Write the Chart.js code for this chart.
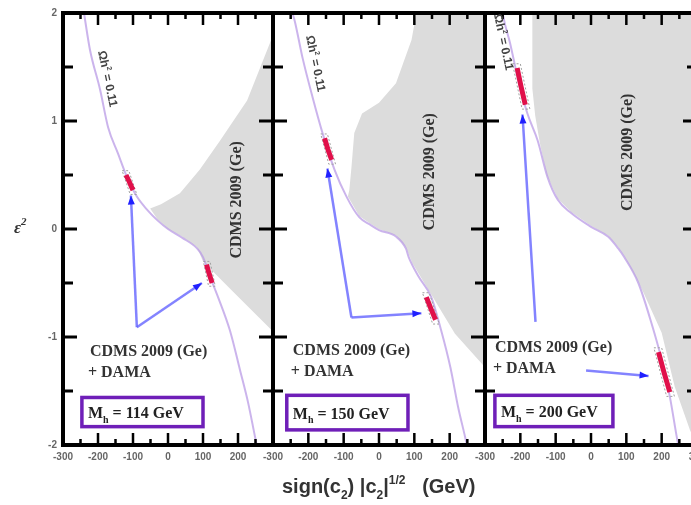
<!DOCTYPE html>
<html>
<head>
<meta charset="utf-8">
<script src="https://cdn.jsdelivr.net/npm/chart.js"></script>
<style>
html, body { margin: 0; padding: 0; background: #fff; overflow: hidden; }
#wrap { position: relative; width: 691px; height: 505px; overflow: hidden; }
#wrap canvas { position: absolute; left: 0; top: 0; }
</style>
</head>
<body>
<div id="wrap">
  <canvas id="p1" width="700" height="505"></canvas>
  <canvas id="p2" width="700" height="505"></canvas>
  <canvas id="p3" width="700" height="505"></canvas>
</div>
<script>
// ===== DATI =====
const xTickValues = [-300, -200, -100, 0, 100, 200, 300];
const yTickValues = [-2, -1, 0, 1, 2];
const higgsMasses = ['114', '150', '200'];

// curva della densita' relic (viola)
const relicX114 = [-240, -223, -194, -171, -143, -117, -89, -60, -30, 0, 40, 83, 100, 120, 143, 177, 206, 229, 249, 260];
const relicY114 = [2.0, 1.66, 1.29, 0.94, 0.70, 0.48, 0.30, 0.18, 0.08, 0.0, -0.08, -0.18, -0.26, -0.44, -0.63, -0.94, -1.31, -1.61, -1.93, -2.1];
const relicX150 = [-245, -238, -216, -188, -160, -126, -92, -56, -25, 0, 48, 76, 84, 112, 148, 176, 202, 224, 244, 252];
const relicY150 = [2.0, 1.92, 1.58, 1.22, 0.89, 0.55, 0.30, 0.11, 0.04, -0.01, -0.07, -0.18, -0.26, -0.44, -0.63, -0.94, -1.28, -1.65, -1.93, -2.05];
const relicX200 = [-252, -249, -229, -206, -180, -151, -123, -94, -57, 0, 48, 77, 94, 134, 171, 200, 223, 243, 250];
const relicY200 = [2.05, 1.98, 1.72, 1.38, 1.07, 0.82, 0.48, 0.27, 0.15, 0.02, -0.07, -0.18, -0.26, -0.5, -0.87, -1.21, -1.55, -1.93, -2.05];

// regione esclusa CDMS 2009 (grigia)
const cdmsX114 = [300, 291, 226, 149, 91, 34, -20, -51, -30, 0, 40, 83, 100, 186, 300];
const cdmsY114 = [1.80, 1.72, 1.19, 0.82, 0.55, 0.33, 0.23, 0.19, 0.09, 0.0, -0.07, -0.17, -0.30, -0.58, -0.95];
const cdmsX150 = [106, 92, 48, 0, -48, -70, -78, -84, -88, -56, -25, 0, 48, 76, 95, 215, 300, 300];
const cdmsY150 = [2.0, 1.75, 1.35, 1.17, 1.07, 0.89, 0.57, 0.36, 0.30, 0.12, 0.05, 0.0, -0.06, -0.17, -0.32, -0.97, -1.28, 2.0];
const cdmsX200 = [-166, -166, -158, -145, -125, -94, -57, 0, 48, 77, 94, 134, 150, 200, 237, 280, 300, 300];
const cdmsY200 = [2.0, 1.3, 1.05, 0.8, 0.5, 0.28, 0.16, 0.03, -0.06, -0.17, -0.25, -0.49, -0.6, -0.96, -1.46, -1.86, -2.0, 2.0];

// segmenti DAMA + CDMS (rossi)
const damaUpX114 = [-120, -111, -100];
const damaUpY114 = [0.50, 0.44, 0.36];
const damaLoX114 = [110, 118, 126];
const damaLoY114 = [-0.33, -0.42, -0.50];
const damaUpX150 = [-154, -145, -134];
const damaUpY150 = [0.84, 0.74, 0.64];
const damaLoX150 = [134, 146, 160];
const damaLoY150 = [-0.63, -0.73, -0.84];
const damaUpX200 = [-209, -198, -186];
const damaUpY200 = [1.49, 1.32, 1.15];
const damaLoX200 = [191, 206, 223];
const damaLoY200 = [-1.14, -1.32, -1.51];

// contorni tratteggiati
const boxUpX114 = [-131, -112, -89, -108, -131];
const boxUpY114 = [0.54, 0.54, 0.32, 0.32, 0.54];
const boxLoX114 = [101, 120, 135, 116, 101];
const boxLoY114 = [-0.30, -0.30, -0.53, -0.53, -0.30];
const boxUpX150 = [-165, -146, -123, -142, -165];
const boxUpY150 = [0.88, 0.88, 0.60, 0.60, 0.88];
const boxLoX150 = [123, 142, 171, 152, 123];
const boxLoY150 = [-0.59, -0.59, -0.88, -0.88, -0.59];
const boxUpX200 = [-222, -200, -173, -195, -222];
const boxUpY200 = [1.53, 1.53, 1.11, 1.11, 1.53];
const boxLoX200 = [178, 200, 236, 214, 178];
const boxLoY200 = [-1.10, -1.10, -1.55, -1.55, -1.10];

// frecce blu
const arrowAX114 = [-89, -106];
const arrowAY114 = [-0.91, 0.31];
const arrowBX114 = [-89, 97];
const arrowBY114 = [-0.91, -0.50];
const arrowAX150 = [-78, -146];
const arrowAY150 = [-0.82, 0.56];
const arrowBX150 = [-78, 120];
const arrowBY150 = [-0.82, -0.78];
const arrowAX200 = [-157, -194];
const arrowAY200 = [-0.86, 1.06];
const arrowBX200 = [-14, 163];
const arrowBY200 = [-1.31, -1.36];

const toPts = (xs, ys) => xs.map((x, i) => ({ x: x, y: ys[i] }));

// ===== PANNELLI =====
const panels = [
    {
        id: 'p1', left: 63, right: 273,
        relic: [relicX114, relicY114], cdms: [cdmsX114, cdmsY114],
        dama: [[damaUpX114, damaUpY114], [damaLoX114, damaLoY114]],
        boxes: [[boxUpX114, boxUpY114], [boxLoX114, boxLoY114]],
        arrows: [[arrowAX114, arrowAY114], [arrowBX114, arrowBY114]],
        curveLabel: { x: -171, y: 1.38 }, cdmsLabel: { x: 194, y: 0.27 },
        combo: { x: -223, y: -1.12 }, massBox: { x0: -246, x1: 100, y0: -1.56, y1: -1.83 }
    },
    {
        id: 'p2', left: 273, right: 485,
        relic: [relicX150, relicY150], cdms: [cdmsX150, cdmsY150],
        dama: [[damaUpX150, damaUpY150], [damaLoX150, damaLoY150]],
        boxes: [[boxUpX150, boxUpY150], [boxLoX150, boxLoY150]],
        arrows: [[arrowAX150, arrowAY150], [arrowBX150, arrowBY150]],
        curveLabel: { x: -178, y: 1.52 }, cdmsLabel: { x: 142, y: 0.53 },
        combo: { x: -244, y: -1.11 }, massBox: { x0: -261, x1: 82, y0: -1.54, y1: -1.86 }
    },
    {
        id: 'p3', left: 485, right: 697,
        relic: [relicX200, relicY200], cdms: [cdmsX200, cdmsY200],
        dama: [[damaUpX200, damaUpY200], [damaLoX200, damaLoY200]],
        boxes: [[boxUpX200, boxUpY200], [boxLoX200, boxLoY200]],
        arrows: [[arrowAX200, arrowAY200], [arrowBX200, arrowBY200]],
        curveLabel: { x: -246, y: 1.72 }, cdmsLabel: { x: 102, y: 0.71 },
        combo: { x: -272, y: -1.08 }, massBox: { x0: -272, x1: 62, y0: -1.54, y1: -1.83 }
    }
];

// testo con pedici / apici
function drawRich(ctx, parts, x, y, size, family, weight) {
    let cx = x;
    parts.forEach(p => {
        const s = p.sub || p.sup ? Math.round(size * 0.62) : size;
        ctx.font = `${weight} ${s}px ${family}`;
        const dy = p.sub ? size * 0.3 : (p.sup ? -size * 0.45 : 0);
        ctx.fillText(p.t, cx, y + dy);
        cx += ctx.measureText(p.t).width;
    });
}

// cornice e tacche verso l'interno
const framePlugin = {
    id: 'frame',
    afterDatasetsDraw(chart) {
        const { ctx, chartArea: a, scales: { x, y } } = chart;
        ctx.save();
        ctx.fillStyle = '#000';
        for (let v = -250; v <= 250; v += 50) {
            const px = x.getPixelForValue(v);
            const len = v % 100 === 0 ? 12 : 6;
            ctx.fillRect(px - 1.25, a.top, 2.5, len);
            ctx.fillRect(px - 1.25, a.bottom - len, 2.5, len);
        }
        for (let v = -1.5; v <= 1.5; v += 0.5) {
            const py = y.getPixelForValue(v);
            const len = Number.isInteger(v) ? 14 : 10;
            ctx.fillRect(a.left, py - 1.5, len, 3);
            ctx.fillRect(a.right - len, py - 1.5, len, 3);
        }
        ctx.strokeStyle = '#000';
        ctx.lineWidth = 4;
        ctx.strokeRect(a.left, a.top, a.right - a.left, a.bottom - a.top);
        ctx.restore();
    }
};

// punte delle frecce
const arrowPlugin = {
    id: 'arrows',
    afterDatasetsDraw(chart) {
        const ctx = chart.ctx;
        chart.data.datasets.forEach((ds, i) => {
            if (!ds.arrow) return;
            const pts = chart.getDatasetMeta(i).data;
            const p1 = pts[pts.length - 2], p2 = pts[pts.length - 1];
            const ang = Math.atan2(p2.y - p1.y, p2.x - p1.x);
            ctx.save();
            ctx.translate(p2.x, p2.y);
            ctx.rotate(ang);
            ctx.fillStyle = '#2020ff';
            ctx.beginPath();
            ctx.moveTo(0, 0);
            ctx.lineTo(-9, -3.5);
            ctx.lineTo(-9, 3.5);
            ctx.closePath();
            ctx.fill();
            ctx.restore();
        });
    }
};

// etichette di testo
const labelPlugin = {
    id: 'labels',
    afterDraw(chart) {
        const cfg = chart.options.plugins.labels;
        const { ctx, scales: { x, y } } = chart;
        ctx.save();
        ctx.fillStyle = '#333';
        ctx.textBaseline = 'alphabetic';

        // etichetta lungo la curva
        ctx.save();
        ctx.translate(x.getPixelForValue(cfg.curveLabel.x), y.getPixelForValue(cfg.curveLabel.y));
        ctx.rotate(78 * Math.PI / 180);
        ctx.fillStyle = '#444';
        ctx.textAlign = 'left';
        drawRich(ctx, [{ t: '\u03A9h' }, { t: '2', sup: true }, { t: ' = 0.11' }], -30, 4, 12, 'Liberation Sans', 'bold');
        ctx.restore();

        // CDMS verticale
        ctx.save();
        ctx.translate(x.getPixelForValue(cfg.cdmsLabel.x), y.getPixelForValue(cfg.cdmsLabel.y));
        ctx.rotate(-Math.PI / 2);
        ctx.textAlign = 'center';
        ctx.font = 'bold 16px Liberation Serif';
        ctx.fillText('CDMS 2009 (Ge)', 0, 5);
        ctx.restore();

        // CDMS + DAMA
        ctx.textAlign = 'left';
        ctx.font = 'bold 16px Liberation Serif';
        const cx = x.getPixelForValue(cfg.combo.x);
        const cy = y.getPixelForValue(cfg.combo.y);
        ctx.fillText('CDMS 2009 (Ge)', cx, cy + 6);
        ctx.fillText('+ DAMA', cx - 2, cy + 27);

        // riquadro massa Higgs
        const b = cfg.massBox;
        const bx0 = x.getPixelForValue(b.x0), bx1 = x.getPixelForValue(b.x1);
        const by0 = y.getPixelForValue(b.y0), by1 = y.getPixelForValue(b.y1);
        ctx.fillStyle = '#fff';
        ctx.fillRect(bx0, by0, bx1 - bx0, by1 - by0);
        ctx.strokeStyle = '#6f1fb8';
        ctx.lineWidth = 3.5;
        ctx.strokeRect(bx0, by0, bx1 - bx0, by1 - by0);
        ctx.fillStyle = '#222';
        drawRich(ctx, [{ t: 'M' }, { t: 'h', sub: true }, { t: ' = ' + cfg.mass + ' GeV' }],
            bx0 + 6, (by0 + by1) / 2 + 6, 16, 'Liberation Serif', 'bold');

        // titoli degli assi
        if (cfg.yTitle) {
            ctx.fillStyle = '#333';
            drawRich(ctx, [{ t: '\u03B5' }, { t: '2', sup: true }], 14, 233, 17, 'Liberation Serif', 'italic bold');
        }
        if (cfg.xTitle) {
            ctx.fillStyle = '#333';
            drawRich(ctx, [
                { t: 'sign(c' }, { t: '2', sub: true }, { t: ') |c' }, { t: '2', sub: true },
                { t: '|' }, { t: '1/2', sup: true }, { t: '   (GeV)' }
            ], 282, 493, 20, 'Liberation Sans', 'bold');
        }
        ctx.restore();
    }
};

panels.forEach((p, idx) => {
    const last = idx === panels.length - 1;
    const datasets = [];

    datasets.push({
        data: toPts(p.cdms[0], p.cdms[1]),
        showLine: true, tension: 0, pointRadius: 0, borderWidth: 0,
        borderColor: 'rgba(0,0,0,0)', backgroundColor: '#dcdcdc',
        fill: 'shape', order: 6
    });
    datasets.push({
        data: toPts(p.relic[0], p.relic[1]),
        showLine: true, cubicInterpolationMode: 'monotone', pointRadius: 0,
        borderColor: 'rgba(185,155,230,0.75)', borderWidth: 2, fill: false, order: 5
    });
    p.boxes.forEach(bx => datasets.push({
        data: toPts(bx[0], bx[1]),
        showLine: true, tension: 0, pointRadius: 0,
        borderColor: '#a0a0a0', borderWidth: 1, borderDash: [2, 2], fill: false, order: 4
    }));
    p.dama.forEach(d => datasets.push({
        data: toPts(d[0], d[1]),
        showLine: true, tension: 0, pointRadius: 0,
        borderColor: '#e0104a', borderWidth: 5, borderCapStyle: 'butt', fill: false, order: 3
    }));
    p.arrows.forEach(ar => datasets.push({
        data: toPts(ar[0], ar[1]),
        showLine: true, tension: 0, pointRadius: 0,
        borderColor: 'rgba(100,100,255,0.8)', borderWidth: 2.5, fill: false, order: 2,
        arrow: true
    }));

    new Chart(document.getElementById(p.id), {
        type: 'scatter',
        data: { datasets: datasets },
        options: {
            responsive: false,
            animation: false,
            events: [],
            layout: {
                padding: { left: idx === 0 ? 33 : p.left, right: 700 - p.right, top: 13, bottom: 40 }
            },
            plugins: {
                legend: { display: false },
                tooltip: { enabled: false },
                labels: Object.assign({}, p, {
                    mass: higgsMasses[idx], yTitle: idx === 0, xTitle: idx === 1
                })
            },
            scales: {
                x: {
                    type: 'linear', min: xTickValues[0], max: xTickValues[xTickValues.length - 1],
                    afterBuildTicks: s => { s.ticks = xTickValues.map(v => ({ value: v })); },
                    afterFit: s => { s.height = 20; s.paddingLeft = 0; s.paddingRight = 0; },
                    grid: { display: false, drawTicks: false },
                    border: { display: false },
                    ticks: {
                        autoSkip: false, maxRotation: 0, padding: 6, color: '#666',
                        font: { family: 'Liberation Sans', size: 10, weight: 'bold' },
                        callback: v => (v === 300 && !last) ? '' : String(v)
                    }
                },
                y: {
                    type: 'linear', min: yTickValues[0], max: yTickValues[yTickValues.length - 1],
                    display: idx === 0,
                    afterBuildTicks: s => { s.ticks = yTickValues.map(v => ({ value: v })); },
                    afterFit: s => {
                        s.width = idx === 0 ? 30 : 0;
                        s.paddingTop = 0; s.paddingBottom = 0;
                    },
                    grid: { display: false, drawTicks: false },
                    border: { display: false },
                    ticks: {
                        padding: 6, color: '#666',
                        font: { family: 'Liberation Sans', size: 10, weight: 'bold' }
                    }
                }
            }
        },
        plugins: [framePlugin, arrowPlugin, labelPlugin]
    });
});
</script>
</body>
</html>
